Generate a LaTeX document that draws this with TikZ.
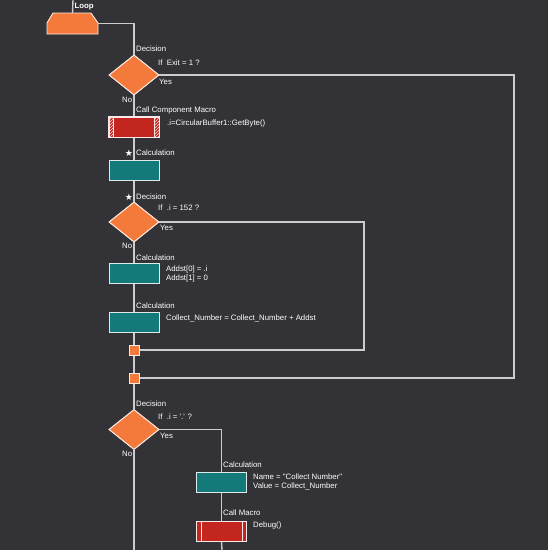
\documentclass[tikz,border=0pt]{standalone}
\usepackage{fontspec}
\setmainfont{Liberation Sans}[Ligatures=TeXOff]
\newfontfamily\symfont{DejaVu Sans}
\usetikzlibrary{shapes.geometric,patterns}
\definecolor{bg}{HTML}{333236}
\definecolor{ln}{HTML}{CCCCCC}
\definecolor{orng}{HTML}{F37A3B}
\definecolor{teal2}{HTML}{137A79}
\definecolor{red2}{HTML}{C3261F}
\tikzset{
  wire/.style={draw=ln, line width=1.4pt},
  dec/.style={diamond, fill=orng, draw=white!85!orng, line width=0.9pt, minimum width=50pt, minimum height=40pt, inner sep=0pt},
  calcbox/.style={rectangle, fill=teal2, draw=white!85!teal2, line width=0.9pt, minimum width=50pt, minimum height=20pt, inner sep=0pt},
  macbox/.style={rectangle, fill=red2, draw=white!90!red2, line width=0.9pt, minimum width=50pt, minimum height=20pt, inner sep=0pt},
  mergebox/.style={rectangle, fill=orng, draw=white!85!orng, line width=0.9pt, minimum size=10pt, inner sep=0pt},
  lab/.style={text=white, font=\fontsize{7.8}{9}\selectfont, anchor=west, inner sep=0pt, align=left},
  starlab/.style={text=white, font=\symfont\fontsize{9}{10}\selectfont, inner sep=0pt},
}
\begin{document}
\begin{tikzpicture}[x=1pt,y=-1pt]
\fill[bg] (0,0) rectangle (548,550);
\useasboundingbox (0,0) rectangle (548,550);

% coordinates
\coordinate (top) at (73,0);
\coordinate (r1) at (514,75);
\coordinate (r2) at (364,222);
\coordinate (bot1) at (134,550);
\coordinate (bot2) at (222,550);

% nodes
\node[minimum width=51pt, minimum height=21pt, inner sep=0pt] (loop) at (72.5,23.5) {};
\node[dec] (dec1) at (134,75) {};
\node[macbox] (ccm) at (134,127) {};
\node[calcbox] (calc1) at (134,170) {};
\node[dec] (dec2) at (134,222) {};
\node[calcbox] (calc2) at (134,273) {};
\node[calcbox] (calc3) at (134,322) {};
\node[mergebox] (m1) at (134,350) {};
\node[mergebox] (m2) at (134,378) {};
\node[dec] (dec3) at (134,429.5) {};
\node[calcbox] (calc4) at (221.5,482) {};
\node[macbox] (mac) at (221.5,531) {};

% connectors
\begin{scope}[wire]
\draw (top) -- (loop.north);
\draw (loop.east) -| (dec1.north);
\draw (dec1.south) -- (ccm.north);
\draw (dec1.east) -- (r1) |- (m2.east);
\draw (ccm.south) -- (calc1.north);
\draw (calc1.south) -- (dec2.north);
\draw (dec2.east) -- (r2) |- (m1.east);
\draw (dec2.south) -- (calc2.north);
\draw (calc2.south) -- (calc3.north);
\draw (calc3.south) -- (m1.north);
\draw (m1.south) -- (m2.north);
\draw (m2.south) -- (dec3.north);
\draw (dec3.south) -- (bot1);
\draw (dec3.east) -| (calc4.north);
\draw (calc4.south) -- (mac.north);
\draw (mac.south) -- (bot2);
\end{scope}

% redraw shapes on top
\fill[orng, draw=white!85!orng, line width=0.9pt] (53,13) -- (91,13) -- (98,23) -- (98,34) -- (47,34) -- (47,23) -- cycle;
\node[dec] at (dec1) {};
\node[dec] at (dec2) {};
\node[dec] at (dec3) {};
\node[macbox] at (ccm) {};
\fill[pattern=north east lines, pattern color=white!85!red2] (ccm.north west) rectangle ([xshift=5pt]ccm.south west);
\fill[pattern=north east lines, pattern color=white!85!red2] ([xshift=-5pt]ccm.north east) rectangle (ccm.south east);
\draw[white!90!red2, line width=0.9pt] (ccm.north west) rectangle (ccm.south east);
\draw[white!90!red2, line width=0.7pt] ([xshift=5pt]ccm.north west) -- ([xshift=5pt]ccm.south west);
\draw[white!90!red2, line width=0.7pt] ([xshift=-5pt]ccm.north east) -- ([xshift=-5pt]ccm.south east);
\node[macbox] at (mac) {};
\draw[white!90!red2, line width=0.7pt] ([xshift=5pt]mac.north west) -- ([xshift=5pt]mac.south west);
\draw[white!90!red2, line width=0.7pt] ([xshift=-5pt]mac.north east) -- ([xshift=-5pt]mac.south east);
\node[calcbox] at (calc1) {};
\node[calcbox] at (calc2) {};
\node[calcbox] at (calc3) {};
\node[calcbox] at (calc4) {};
\node[mergebox] at (m1) {};
\node[mergebox] at (m2) {};

% labels
\node[lab, font=\fontsize{7.8}{9}\selectfont\bfseries] (tloop) at (74.5,7) {Loop};
\node[lab] (td1) at (136,49) {Decision};
\node[lab] (tq1) at (158,62.5) {If\ \ Exit = 1 ?};
\node[lab] (ty1) at (159,82) {Yes};
\node[lab] (tn1) at (122,100) {No};
\node[lab] (tccm) at (136,110) {Call Component Macro};
\node[lab] (tccmx) at (167,123) {.i=CircularBuffer1::GetByte()};
\node[starlab] (s1) at (129,153) {★};
\node[lab] (tc1) at (136,153) {Calculation};
\node[starlab] (s2) at (129,197) {★};
\node[lab] (td2) at (136,197) {Decision};
\node[lab] (tq2) at (158,208) {If\ \ .i = 152 ?};
\node[lab] (ty2) at (160,228) {Yes};
\node[lab] (tn2) at (122,246) {No};
\node[lab] (tc2) at (136,257.5) {Calculation};
\node[lab] (tc2a) at (166,269) {Addst[0] = .i};
\node[lab] (tc2b) at (166,278.5) {Addst[1] = 0};
\node[lab] (tc3) at (136,306) {Calculation};
\node[lab] (tc3a) at (166,318.5) {Collect\_Number = Collect\_Number + Addst};
\node[lab] (td3) at (136,404) {Decision};
\node[lab] (tq3) at (158,416.5) {If\ \ .i = '.' ?};
\node[lab] (ty3) at (160,436) {Yes};
\node[lab] (tn3) at (122,454) {No};
\node[lab] (tc4) at (223,465) {Calculation};
\node[lab] (tc4a) at (253,477) {Name = "Collect Number"};
\node[lab] (tc4b) at (253,486.5) {Value = Collect\_Number};
\node[lab] (tmac) at (223,513) {Call Macro};
\node[lab] (tmacx) at (253,525) {Debug()};
\end{tikzpicture}
\end{document}
